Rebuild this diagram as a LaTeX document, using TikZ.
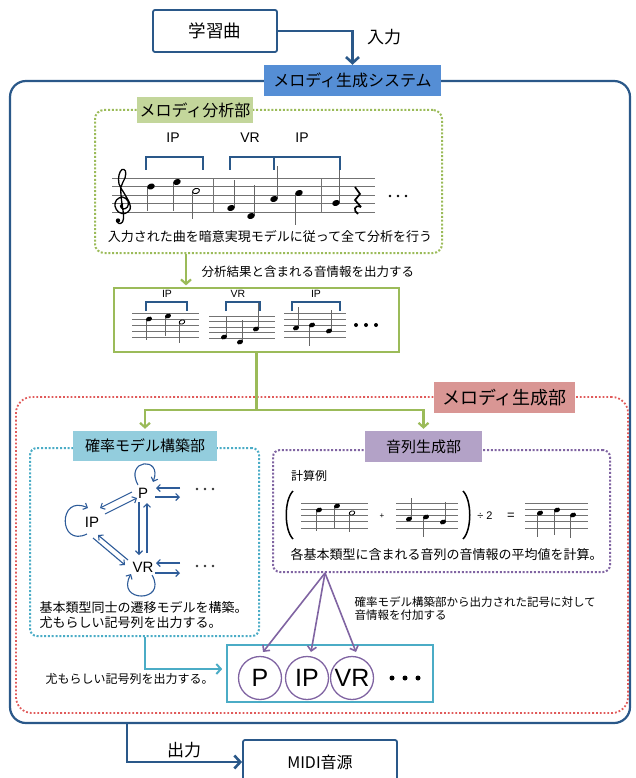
\documentclass[tikz,border=0pt]{standalone}
\usepackage{fontspec}
\setmainfont{Noto Sans CJK JP}
\newfontfamily\lat{Liberation Sans}
\usetikzlibrary{arrows.meta,calc}
\definecolor{dblue}{HTML}{2A5889}
\definecolor{sysblue}{HTML}{558ED5}
\definecolor{ggreen}{HTML}{9BBB59}
\definecolor{glabel}{HTML}{C3D69B}
\definecolor{rred}{HTML}{E05A5A}
\definecolor{rlabel}{HTML}{D99694}
\definecolor{ccyan}{HTML}{4BACC6}
\definecolor{clabel}{HTML}{93CDDD}
\definecolor{ppurple}{HTML}{8064A2}
\definecolor{plabel}{HTML}{B3A2C7}
\definecolor{nblue}{HTML}{2E5C99}
\newcommand\fsz[2]{\fontsize{#1}{#2}\selectfont}
\newcommand\stf[4]{\foreach \i in {0,...,4}{\draw[staffline] (#1,{#3+\i*#4}) -- (#2,{#3+\i*#4});}}
\newcommand\qn[4]{\draw[stemline] ({#1+#4},#2) -- ({#1+#4},#3);\fill[rotate around={20:(#1,#2)}] (#1,#2) ellipse [x radius=3.9pt,y radius=2.9pt];}
\newcommand\hn[4]{\draw[stemline] ({#1+#4},#2) -- ({#1+#4},#3);\draw[line width=0.9pt,fill=white,rotate around={20:(#1,#2)}] (#1,#2) ellipse [x radius=3.6pt,y radius=2.5pt];}
\newcommand\qs[4]{\draw[stemline] ({#1+#4},#2) -- ({#1+#4},#3);\fill[rotate around={20:(#1,#2)}] (#1,#2) ellipse [x radius=3.1pt,y radius=2.3pt];}
\newcommand\hs[4]{\draw[stemline] ({#1+#4},#2) -- ({#1+#4},#3);\draw[line width=0.8pt,fill=white,rotate around={20:(#1,#2)}] (#1,#2) ellipse [x radius=2.9pt,y radius=2pt];}
\tikzset{
  box/.style={draw=dblue, line width=1.8pt, rounded corners=2pt, inner sep=0pt},
  outerbox/.style={draw=dblue, line width=2.2pt, rounded corners=16pt, inner sep=0pt},
  bigarrow/.style={draw=dblue, line width=2.6pt, -{Straight Barb[length=6pt,width=13pt]}},
  gdot/.style={draw=ggreen, line width=2pt, dash pattern=on 2pt off 1.8pt, rounded corners=9pt, inner sep=0pt},
  rdot/.style={draw=rred, line width=1.8pt, dash pattern=on 1.8pt off 2pt, rounded corners=16pt, inner sep=0pt},
  cdot/.style={draw=ccyan, line width=2pt, dash pattern=on 2pt off 1.8pt, rounded corners=7pt, inner sep=0pt},
  pdot/.style={draw=ppurple, line width=2pt, dash pattern=on 2pt off 1.8pt, rounded corners=7pt, inner sep=0pt},
  lab/.style={inner sep=0pt},
  gline/.style={draw=ggreen, line width=2.2pt},
  garr/.style={draw=ggreen, line width=2.2pt, -{Straight Barb[length=4.5pt,width=10pt]}, shorten >=2pt},
  carr/.style={draw=ccyan, line width=2pt, -{Straight Barb[length=4.5pt,width=10pt]}, shorten >=4pt},
  parr/.style={draw=ppurple, line width=1.6pt, -{Straight Barb[length=4.5pt,width=9pt]}},
  narr/.style={draw=nblue, line width=1.1pt, -{Straight Barb[length=3.5pt,width=7pt]}},
  gnode/.style={font=\lat\fsz{15}{18}, inner sep=1pt},
  brk/.style={draw=dblue, line width=1.6pt},
  staffline/.style={draw=black!55, line width=0.7pt},
  stemline/.style={draw=black!60, line width=0.7pt},
  circ/.style={circle, draw=ppurple, line width=1.3pt, minimum size=43pt, inner sep=0pt, font=\lat\fsz{25}{28}},
}
\begin{document}
\begin{tikzpicture}[x=1pt,y=-1pt]
\useasboundingbox (0,0) rectangle (635,778);
\clip (0,0) rectangle (635,778);

% system frame and top
\node[outerbox, minimum width=620pt, minimum height=642pt] (system) at (320,402) {};
\node[lab, fill=sysblue, minimum width=177pt, minimum height=31pt, font=\fsz{16}{18}] (sys) at (352.5,80.5) {メロディ生成システム};
\node[box, minimum width=124pt, minimum height=42pt, font=\fsz{17.5}{20}] (learn) at (215,31) {学習曲};
\draw[bigarrow] (learn.east) -| (sys.north);
\node[font=\fsz{17}{20}] (inlab) at (384,37) {入力};

% analysis section
\node[gdot, minimum width=347pt, minimum height=143pt] (anabox) at (268.5,181.5) {};
\node[lab, fill=glabel, minimum width=116pt, minimum height=26pt, font=\fsz{16}{18}] (analab) at (195,110) {メロディ分析部};

\node[font=\lat\fsz{14}{16}] (b1) at (173,138) {IP};
\node[font=\lat\fsz{14}{16}] (b2) at (250,138) {VR};
\node[font=\lat\fsz{14}{16}] (b3) at (302,138) {IP};
\draw[brk] (146,170) -- (146,157) -- (203,157) -- (203,170);
\draw[brk] (230,170) -- (230,157) -- (340,157) -- (340,170);
\draw[brk] (274,157) -- (274,170);

\stf{112}{375}{178}{8.5}
\draw[staffline] (213,178) -- (213,212);
\draw[staffline] (321,178) -- (321,212);
\draw[line width=1.3pt] plot[smooth, tension=0.6] coordinates {(123,203.5) (120.5,206) (123,209) (127.5,207) (128,201) (122.5,197) (116.5,200) (115,206) (118.5,212) (125,213.5) (130,209.5) (129.5,203) (124,193) (119,184) (119,175) (122,169.5) (125.5,171) (125,178) (121,187) (121.5,200) (123.5,215) (122.5,222) (119,223.5) (116.5,221)};
\fill (118,220.5) circle (2.2);
\qn{151}{186.5}{211}{-3.5}
\qn{177}{182}{211}{-3.5}
\hn{196}{191}{219}{-3.3}
\qn{231}{208}{180}{3.5}
\qn{251}{216}{185}{3.5}
\qn{274}{199}{166}{3.5}
\qn{299}{193}{225}{-3.5}
\qn{336}{203}{170}{3.5}
\draw[line width=1.7pt] (355,187) -- (360,194) -- (355,200) -- (361,207);
\draw[line width=1.7pt] (361,207) .. controls (354,204) and (353,211) .. (358,214);
\foreach \x in {390,398,406} \fill (\x,196) circle (1.3);

\node[font=\fsz{13}{15}] (anatext) at (270,237) {入力された曲を暗意実現モデルに従って全て分析を行う};

% result box
\node[draw=ggreen, line width=1.2pt, minimum width=285pt, minimum height=64pt, inner sep=0pt] (resbox) at (256.5,320) {};
\coordinate (ga) at ([xshift=92pt]anabox.south west);
\draw[garr] (ga) -- (ga |- resbox.north);
\node[font=\fsz{12.5}{15}, anchor=west] (restext) at (198,272) {分析結果と含まれる音情報を出力する};

\stf{132}{199}{313}{6}
\qs{149}{319}{340}{-2.8}
\qs{168}{316}{336}{-2.8}
\hs{182}{322}{343}{-2.6}
\draw[brk, line width=1.3pt] (146,311) -- (146,302) -- (187,302) -- (187,311);
\node[font=\lat\fsz{10.5}{12}] (s1) at (167,294) {IP};
\stf{209}{275}{316}{5.5}
\qs{224}{337}{316}{2.8}
\qs{240}{342}{320}{2.8}
\qs{256}{329}{303}{2.8}
\draw[brk, line width=1.3pt] (226,311) -- (226,302) -- (260,302) -- (260,311);
\node[font=\lat\fsz{10.5}{12}] (s2) at (238,294) {VR};
\stf{284}{346}{313}{6}
\qs{296}{328}{307}{2.8}
\qs{312}{325}{346}{-2.8}
\qs{329}{331}{310}{2.8}
\draw[brk, line width=1.3pt] (292,311) -- (292,302) -- (340,302) -- (340,311);
\node[font=\lat\fsz{10.5}{12}] (s3) at (316,294) {IP};
\foreach \x in {356,366,376} \fill (\x,325) circle (2);

% generation section
\node[rdot, minimum width=612pt, minimum height=316pt] (genbox) at (322,555) {};
\node[lab, fill=rlabel, minimum width=141pt, minimum height=31pt, font=\fsz{18}{20}] (genlab) at (504.5,397.5) {メロディ生成部};

\node[cdot, minimum width=229pt, minimum height=188pt] (probbox) at (144.5,542) {};
\node[lab, fill=clabel, minimum width=144pt, minimum height=30pt, font=\fsz{15}{18}] (problab) at (145,446) {確率モデル構築部};
\node[pdot, minimum width=337pt, minimum height=122pt] (seqbox) at (441.5,511) {};
\node[lab, fill=plabel, minimum width=117pt, minimum height=31pt, font=\fsz{15}{18}] (seqlab) at (423.5,446.5) {音列生成部};

\coordinate (split) at ($(resbox.south)+(0,57)$);
\draw[gline] (resbox.south) -- (split);
\draw[garr] (split) -| (problab.north);
\draw[garr] (split) -| (seqlab.north);

% transition graph
\node[gnode] (P) at (143,493) {P};
\node[gnode] (IP) at (92,522) {IP};
\node[gnode] (VR) at (143,567) {VR};
\coordinate (d1) at (205,489);
\coordinate (d2) at (205,566);
\foreach \dx in {-8,0,8} {\fill[black!80] ([xshift=\dx pt]d1) circle (1.3); \fill[black!80] ([xshift=\dx pt]d2) circle (1.3);}
\draw[narr] ([shift={(-11,-1)}]P.center) -- ([shift={(8,-14)}]IP.center);
\draw[narr] ([shift={(13,-8)}]IP.center) -- ([shift={(-6,5)}]P.center);
\draw[narr] ([shift={(-4,9)}]P.center) -- ([shift={(-4,-12)}]VR.center);
\draw[narr] ([shift={(4,-14)}]VR.center) -- ([shift={(4,10)}]P.center);
\draw[narr] ([shift={(-15,-7)}]VR.center) -- ([shift={(6,13)}]IP.center);
\draw[narr] ([shift={(1,16)}]IP.center) -- ([shift={(-18,-2)}]VR.center);
\draw[narr] ([shift={(-25,-1)}]d1) -- ([shift={(13,-5)}]P.center);
\draw[narr] ([shift={(12,4)}]P.center) -- ([shift={(-25,8)}]d1);
\draw[narr] ([shift={(-25,-3)}]d2) -- ([shift={(13,-4)}]VR.center);
\draw[narr] ([shift={(12,6)}]VR.center) -- ([shift={(-25,7)}]d2);
\draw[narr] ([shift={(-5,-8)}]P.center) .. controls +(-14,-26) and +(10,-26) .. ([shift={(10,-11)}]P.center);
\draw[narr] ([shift={(-5,12)}]IP.center) .. controls +(-29,14) and +(-30,-14) .. ([shift={(-4,-14)}]IP.center);
\draw[narr] ([shift={(9,8)}]VR.center) .. controls +(16,28) and +(-16,29) .. ([shift={(-12,7)}]VR.center);
\node[anchor=west, align=left, font=\fsz{13}{15}] (probtext) at (36,614.5) {基本類型同士の遷移モデルを構築。\\尤もらしい記号列を出力する。};

% calculation example
\node[font=\fsz{12}{14}] (calc) at (309,476) {計算例};
\draw[line width=1.5pt] (293,491) .. controls (284,500) and (284,530) .. (293,539);
\draw[line width=1.5pt] (463,491) .. controls (472,500) and (472,530) .. (463,539);
\stf{301}{368}{503}{6.25}
\qs{319}{510}{531}{-2.8}
\qs{337}{506}{528}{-2.8}
\hs{352}{513}{532}{-2.6}
\node[font=\lat\fsz{8}{9}] (plus) at (382,516) {+};
\stf{396}{458}{503}{6.25}
\qs{409}{519}{498}{2.8}
\qs{426}{517}{537}{-2.8}
\qs{443}{522}{502}{2.8}
\node[font=\lat\fsz{11}{12}] (div) at (485,516) {÷ 2};
\node[font=\lat\fsz{13}{14}] (eq) at (511,516) {=};
\stf{525}{588}{503}{6.25}
\qs{540}{513}{537}{-2.8}
\qs{557}{510}{535}{-2.8}
\qs{573}{515}{538}{-2.8}
\node[font=\fsz{13}{15}] (seqtext) at (446.5,555) {各基本類型に含まれる音列の音情報の平均値を計算。};

% symbol sequence
\node[draw=ccyan, line width=1.6pt, minimum width=206pt, minimum height=57pt, inner sep=0pt] (symbox) at (330,673.5) {};
\node[circ] (c1) at (260,678) {P};
\node[circ] (c2) at (307,678) {IP};
\node[circ] (c3) at (352,678) {VR};
\foreach \x in {392,405,418} \fill (\x,678) circle (2.5);
\coordinate (pf) at ([xshift=53pt]seqbox.south west);
\draw[parr] (pf) -- ([shift={(3,-26)}]c1.center);
\draw[parr] (pf) -- ([shift={(4,-26)}]c2.center);
\draw[parr] (pf) -- ([shift={(4,-26)}]c3.center);
\node[anchor=west, align=left, font=\fsz{11.5}{13.5}] (attach) at (351,608.5) {確率モデル構築部から出力された記号に対して\\音情報を付加する};
\draw[carr] (probbox.south) |- ([yshift=4.5pt]symbox.west);
\node[font=\fsz{12}{14}] (outtext) at (129.5,679) {尤もらしい記号列を出力する。};

% output
\node[box, minimum width=154pt, minimum height=44pt, font=\fsz{16}{18}] (midi) at (320,762) {MIDI音源};
\coordinate (oa) at ([xshift=118pt]system.south west);
\draw[bigarrow] (oa) |- (midi.west);
\node[font=\fsz{17}{20}] (outlab) at (184,750) {出力};
\end{tikzpicture}
\end{document}
